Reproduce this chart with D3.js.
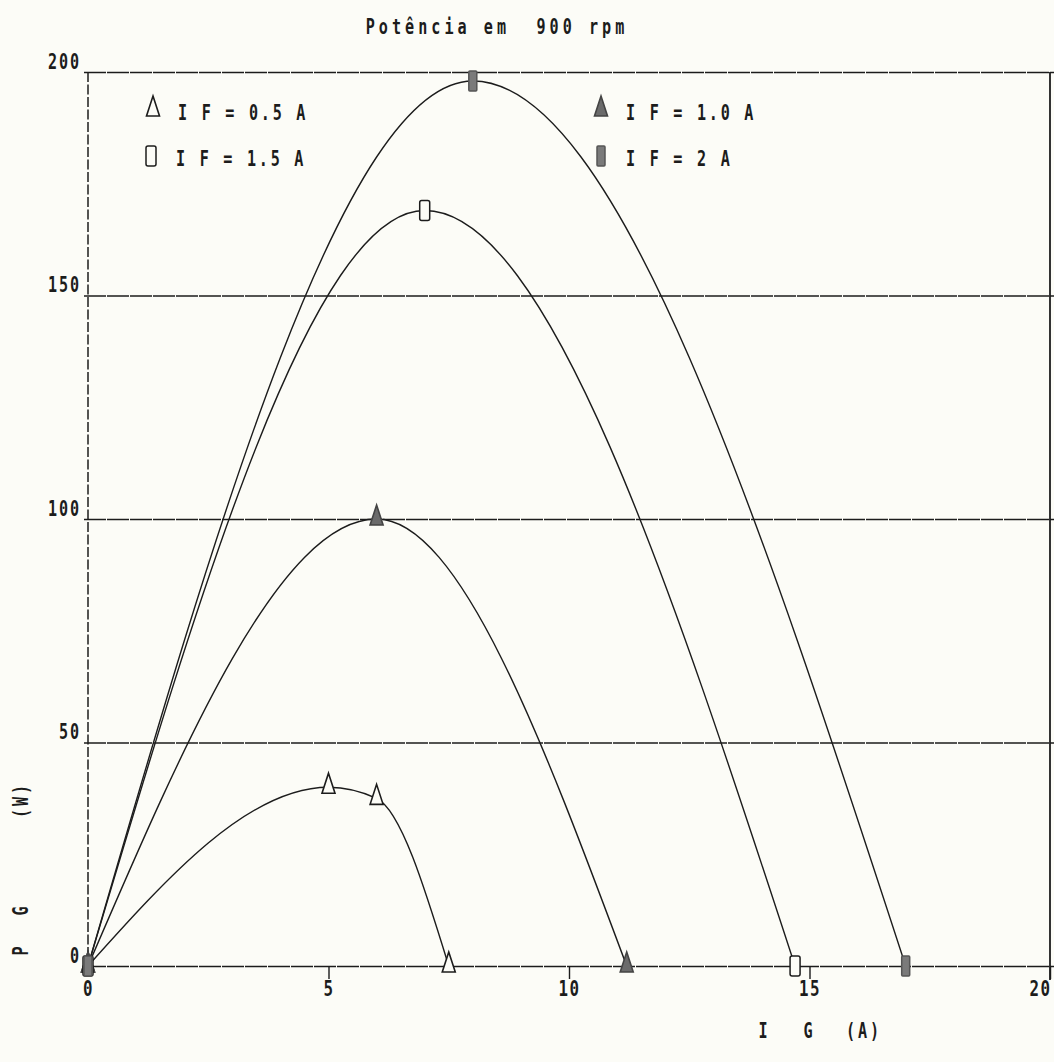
<!DOCTYPE html>
<html>
<head>
<meta charset="utf-8">
<script src="https://cdn.jsdelivr.net/npm/d3@7"></script>
<style>
  html, body { margin: 0; padding: 0; background: #fcfcf7; }
  svg { display: block; }
  text { font-family: "DejaVu Sans Mono", "Liberation Mono", monospace; font-weight: bold; fill: #1c1c1c; white-space: pre; }
</style>
</head>
<body>
<svg id="chart" width="1054" height="1062"></svg>
<script>
// Generator power at 900 rpm: P G (W) against I G (A), one curve per field current.
const titleText = "Potência em  900 rpm";
const fieldLabels = ["I F = 0.5 A", "I F = 1.0 A", "I F = 1.5 A", "I F = 2 A"];

const ig05 = [0, 5, 6, 7.5];
const pg05 = [0, 40, 37.5, 0];
const ig10 = [0, 6, 11.2];
const pg10 = [0, 100, 0];
const ig15 = [0, 7, 14.7];
const pg15 = [0, 169, 0];
const ig20 = [0, 8, 17];
const pg20 = [0, 198, 0];

const xTicks = [0, 5, 10, 15, 20];
const yTicks = [0, 50, 100, 150, 200];

const series = [
  { label: fieldLabels[0], ig: ig05, pg: pg05, shape: "triangle", filled: false },
  { label: fieldLabels[1], ig: ig10, pg: pg10, shape: "triangle", filled: true },
  { label: fieldLabels[2], ig: ig15, pg: pg15, shape: "rect", filled: false },
  { label: fieldLabels[3], ig: ig20, pg: pg20, shape: "rect", filled: true }
];

const svg = d3.select("#chart");
const ink = "#1c1c1c";
const paper = "#fcfcf7";
const narrow = 0.72;   // printer glyphs are tall and narrow

const x = d3.scaleLinear().domain([0, 20]).range([88, 1050]);
const y = d3.scaleLinear().domain([0, 200]).range([966, 72]);

// narrow printer-style text
function label(px, py, str, size, spacing, anchor, rotate) {
  return svg.append("text")
    .attr("transform", `translate(${px},${py})${rotate ? " rotate(-90)" : ""} scale(${narrow},1)`)
    .attr("font-size", size).attr("letter-spacing", spacing)
    .attr("text-anchor", anchor || "start").text(str);
}

// horizontal rules at every y tick (the 200 rule closes the frame)
svg.append("g")
  .attr("transform", `translate(${x(0)},0)`)
  .call(d3.axisLeft(y).tickValues(yTicks).tickSize(-(x(20) - x(0)) - 4).tickFormat(""))
  .call(g => g.select(".domain").remove())
  .call(g => g.selectAll(".tick line")
    .attr("x1", -4)
    .attr("stroke", ink).attr("stroke-width", 1.4).attr("stroke-dasharray", "22,1"));

// left axis and right frame
svg.append("line").attr("x1", x(0)).attr("x2", x(0)).attr("y1", y(200)).attr("y2", y(0) + 6)
  .attr("stroke", ink).attr("stroke-width", 1.5).attr("stroke-dasharray", "10,2.5");
svg.append("line").attr("x1", x(20)).attr("x2", x(20)).attr("y1", y(200)).attr("y2", y(0) + 14)
  .attr("stroke", ink).attr("stroke-width", 1.8);

// x axis ticks and labels
svg.append("g")
  .attr("transform", `translate(0,${y(0)})`)
  .call(d3.axisBottom(x).tickValues(xTicks).tickSize(13).tickPadding(2).tickFormat(d3.format("d")))
  .call(g => g.select(".domain").remove())
  .call(g => g.selectAll(".tick line").attr("stroke", ink).attr("stroke-width", 1.4)
    .attr("display", d => d === 0 ? "none" : null))
  .call(g => g.selectAll(".tick text")
    .attr("fill", ink).attr("font-size", 22).attr("font-family", null)
    .attr("letter-spacing", 2)
    .attr("transform", d => `translate(${d === 20 ? -10 : 0},0) scale(${narrow},1)`)
    .attr("y", 14));

// y tick labels, set just above their rules
svg.append("g")
  .attr("transform", `translate(${x(0)},0)`)
  .call(d3.axisLeft(y).tickValues(yTicks).tickSize(0).tickPadding(0).tickFormat(d3.format("d")))
  .call(g => g.select(".domain").remove())
  .call(g => g.selectAll(".tick text")
    .attr("fill", ink).attr("font-size", 21).attr("font-family", null)
    .attr("letter-spacing", 2.5).attr("x", -10).attr("dy", "-0.18em")
    .attr("transform", `scale(${narrow},1)`));

// title
label(497, 34, titleText, 21, 5.6, "middle");

// axis titles
label(763, 1038, "I", 21, 0, "middle");
label(808, 1038, "G", 21, 0, "middle");
label(864, 1038, "(A)", 21, 4, "middle");

label(28, 951, "P", 21, 0, "middle", true);
label(28, 911, "G", 21, 0, "middle", true);
label(28, 800, "(W)", 21, 4, "middle", true);

// curves
const line = d3.line().x(d => x(d[0])).y(d => y(d[1])).curve(d3.curveMonotoneX);
series.forEach(s => {
  const pts = s.ig.map((v, i) => [v, s.pg[i]]);
  svg.append("path").datum(pts).attr("d", line)
    .attr("fill", "none").attr("stroke", ink).attr("stroke-width", 1.4);
});

// marker drawing
function marker(g, shape, filled, cx, cy) {
  if (shape === "triangle") {
    g.append("path")
      .attr("d", `M${cx},${cy - 14} L${cx + 6.5},${cy + 6} L${cx - 6.5},${cy + 6} Z`)
      .attr("fill", filled ? "#6b6b6b" : paper)
      .attr("stroke", filled ? "#444" : ink).attr("stroke-width", 1.6);
  } else {
    g.append("rect")
      .attr("x", cx - (filled ? 4 : 5)).attr("y", cy - 10)
      .attr("width", filled ? 8 : 10).attr("height", 20).attr("rx", filled ? 1 : 2)
      .attr("fill", filled ? "#7a7a7a" : paper)
      .attr("stroke", filled ? "#555" : ink).attr("stroke-width", 1.5);
  }
}

const markers = svg.append("g");
series.forEach(s => {
  s.ig.forEach((v, i) => marker(markers, s.shape, s.filled, x(v), y(s.pg[i])));
});

// legend
const legendPos = [[153, 112], [601, 112], [151, 158], [601, 158]];
series.forEach((s, i) => {
  const [lx, ly] = legendPos[i];
  marker(svg, s.shape, s.filled, lx, ly - 2);
  label(lx + 25, ly + 8, s.label, 21, 3.8, "start");
});
</script>
</body>
</html>
